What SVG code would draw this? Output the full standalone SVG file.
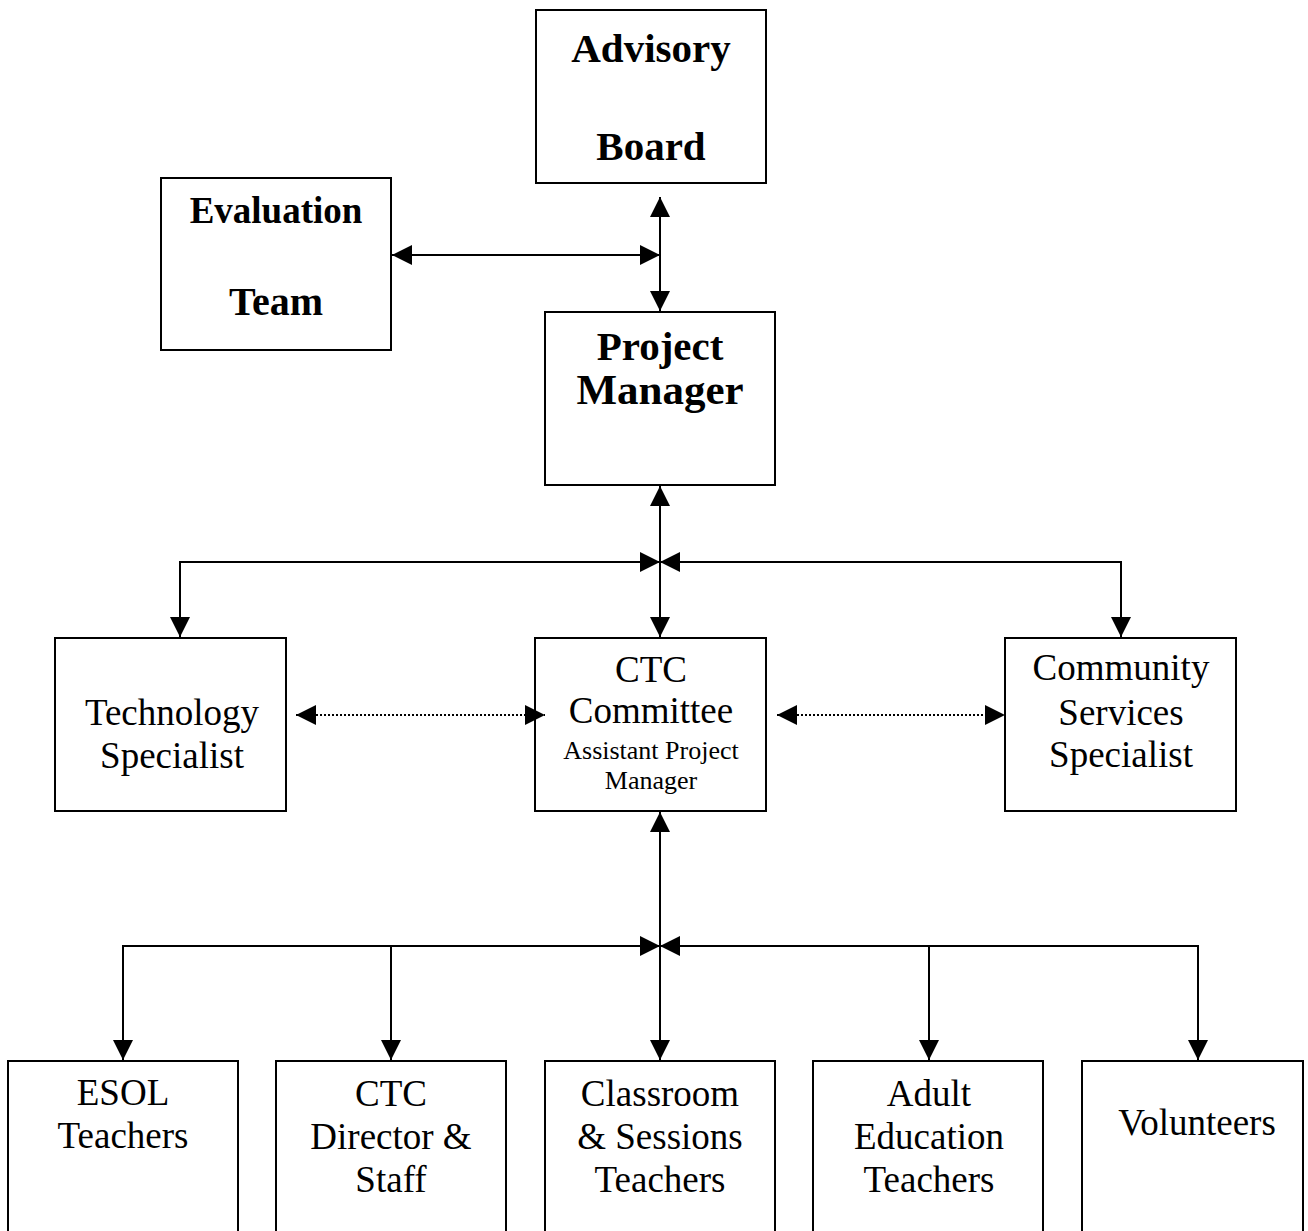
<svg xmlns="http://www.w3.org/2000/svg" width="1308" height="1231" viewBox="0 0 1308 1231">
<style>
.box{fill:#fff;stroke:#000;stroke-width:2}
.b{font-family:"Liberation Serif","Times New Roman",serif;font-weight:bold;text-anchor:middle;fill:#000}
.r{font-family:"Liberation Serif","Times New Roman",serif;text-anchor:middle;fill:#000;font-size:37px}
.s{font-family:"Liberation Serif","Times New Roman",serif;text-anchor:middle;fill:#000;font-size:26px}
.ln{stroke:#000;stroke-width:2;fill:none}
.dot{stroke:#000;stroke-width:2;fill:none;stroke-dasharray:2 2}
</style>
<defs>
<marker id="ah" viewBox="0 0 20 20" refX="20" refY="10" markerWidth="20" markerHeight="20" markerUnits="userSpaceOnUse" orient="auto-start-reverse">
<path d="M0,0 L20,10 L0,20 z" fill="#000"/>
</marker>
</defs>
<rect width="1308" height="1231" fill="#fff"/>
<g id="advisory-board">
<rect class="box" x="536" y="10" width="230" height="173"/>
<text class="b" x="651" y="62" font-size="41">Advisory</text>
<text class="b" x="651" y="160" font-size="41">Board</text>
</g>
<g id="evaluation-team">
<rect class="box" x="161" y="178" width="230" height="172"/>
<text class="b" x="276" y="223" font-size="37">Evaluation</text>
<text class="b" x="276" y="315" font-size="40">Team</text>
</g>
<g id="project-manager">
<rect class="box" x="545" y="312" width="230" height="173"/>
<text class="b" x="660" y="360" font-size="41">Project</text>
<text class="b" x="660" y="404" font-size="43">Manager</text>
</g>
<g id="technology-specialist">
<rect class="box" x="55" y="638" width="231" height="173"/>
<text class="r" x="172" y="725">Technology</text>
<text class="r" x="172" y="768">Specialist</text>
</g>
<g id="ctc-committee">
<rect class="box" x="535" y="638" width="231" height="173"/>
<text class="r" x="651" y="682">CTC</text>
<text class="r" x="651" y="723">Committee</text>
<text class="s" x="651" y="759">Assistant Project</text>
<text class="s" x="651" y="789">Manager</text>
</g>
<g id="community-services-specialist">
<rect class="box" x="1005" y="638" width="231" height="173"/>
<text class="r" x="1121" y="680">Community</text>
<text class="r" x="1121" y="725">Services</text>
<text class="r" x="1121" y="767">Specialist</text>
</g>
<g id="esol-teachers">
<rect class="box" x="8" y="1061" width="230" height="200"/>
<text class="r" x="123" y="1105">ESOL</text>
<text class="r" x="123" y="1148">Teachers</text>
</g>
<g id="ctc-director-staff">
<rect class="box" x="276" y="1061" width="230" height="200"/>
<text class="r" x="391" y="1106">CTC</text>
<text class="r" x="391" y="1149">Director &amp;</text>
<text class="r" x="391" y="1192">Staff</text>
</g>
<g id="classroom-sessions-teachers">
<rect class="box" x="545" y="1061" width="230" height="200"/>
<text class="r" x="660" y="1106">Classroom</text>
<text class="r" x="660" y="1149">&amp; Sessions</text>
<text class="r" x="660" y="1192">Teachers</text>
</g>
<g id="adult-education-teachers">
<rect class="box" x="813" y="1061" width="230" height="200"/>
<text class="r" x="929" y="1106">Adult</text>
<text class="r" x="929" y="1149">Education</text>
<text class="r" x="929" y="1192">Teachers</text>
</g>
<g id="volunteers">
<rect class="box" x="1082" y="1061" width="221" height="200"/>
<text class="r" x="1197" y="1135">Volunteers</text>
</g>
<g id="connectors">
<line class="ln" x1="660" y1="197" x2="660" y2="311" marker-start="url(#ah)" marker-end="url(#ah)"/>
<line class="ln" x1="392" y1="255" x2="660" y2="255" marker-start="url(#ah)" marker-end="url(#ah)"/>
<line class="ln" x1="660" y1="486" x2="660" y2="637" marker-start="url(#ah)" marker-end="url(#ah)"/>
<line class="ln" x1="180" y1="562" x2="660" y2="562" marker-end="url(#ah)"/>
<line class="ln" x1="1121" y1="562" x2="660" y2="562" marker-end="url(#ah)"/>
<line class="ln" x1="180" y1="561" x2="180" y2="637" marker-end="url(#ah)"/>
<line class="ln" x1="1121" y1="561" x2="1121" y2="637" marker-end="url(#ah)"/>
<line class="dot" x1="296" y1="715" x2="545" y2="715" marker-start="url(#ah)" marker-end="url(#ah)"/>
<line class="dot" x1="777" y1="715" x2="1005" y2="715" marker-start="url(#ah)" marker-end="url(#ah)"/>
<line class="ln" x1="660" y1="812" x2="660" y2="1060" marker-start="url(#ah)" marker-end="url(#ah)"/>
<line class="ln" x1="123" y1="946" x2="660" y2="946" marker-end="url(#ah)"/>
<line class="ln" x1="1198" y1="946" x2="660" y2="946" marker-end="url(#ah)"/>
<line class="ln" x1="123" y1="945" x2="123" y2="1060" marker-end="url(#ah)"/>
<line class="ln" x1="391" y1="946" x2="391" y2="1060" marker-end="url(#ah)"/>
<line class="ln" x1="929" y1="946" x2="929" y2="1060" marker-end="url(#ah)"/>
<line class="ln" x1="1198" y1="945" x2="1198" y2="1060" marker-end="url(#ah)"/>
</g>
</svg>
